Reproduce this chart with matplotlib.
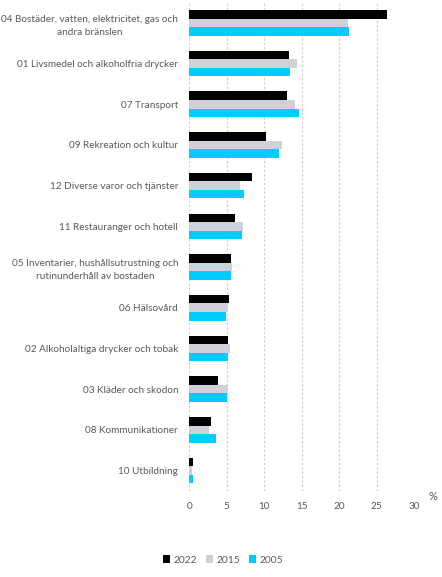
import matplotlib
matplotlib.use("Agg")
import matplotlib.pyplot as plt
import numpy as np

plt.rcParams['font.family'] = ['Lato', 'DejaVu Sans']

categories = [
    "04 Bostäder, vatten, elektricitet, gas och\nandra bränslen",
    "01 Livsmedel och alkoholfria drycker",
    "07 Transport",
    "09 Rekreation och kultur",
    "12 Diverse varor och tjänster",
    "11 Restauranger och hotell",
    "05 Inventarier, hushållsutrustning och\nrutinunderhåll av bostaden",
    "06 Hälsovård",
    "02 Alkoholaltiga drycker och tobak",
    "03 Kläder och skodon",
    "08 Kommunikationer",
    "10 Utbildning",
]
v2022 = [26.3, 13.3, 13.0, 10.2, 8.3, 6.1, 5.5, 5.3, 5.1, 3.8, 2.9, 0.5]
v2015 = [21.2, 14.3, 14.1, 12.4, 6.7, 7.2, 5.7, 5.1, 5.4, 5.1, 2.6, 0.4]
v2005 = [21.3, 13.4, 14.6, 12.0, 7.3, 7.0, 5.5, 4.9, 5.1, 5.0, 3.5, 0.5]
series_names = ["2022", "2015", "2005"]
colors = ["#000000", "#D0D0D8", "#00CCFF"]
xticks = [0, 5, 10, 15, 20, 25, 30]

fig = plt.figure(figsize=(4.42, 5.77), dpi=100)
ax = fig.add_axes([0.4283, 0.1492, 0.509, 0.8465])

y = np.arange(len(categories))
h = 0.21
for k, (vals, name, col) in enumerate(zip([v2022, v2015, v2005], series_names, colors)):
    ax.barh(y + (k - 1) * h, vals, height=h, color=col, label=name, zorder=3)

ax.set_ylim(len(categories) - 0.5, -0.5)
ax.set_xlim(0, 30)
ax.set_xticks(xticks)
ax.set_yticks(y)
ax.set_yticklabels(categories, multialignment='center', linespacing=1.6)
ax.tick_params(axis='both', length=0, labelsize=7.2, colors='#595959')
ax.tick_params(axis='y', pad=8)
ax.tick_params(axis='x', pad=8)
for s in ax.spines.values():
    s.set_visible(False)
ax.grid(axis='x', color='#D0D0D0', linestyle=(0, (2, 1.5)), linewidth=0.9, zorder=0)

fig.text(433 / 442, 1 - 496 / 577, "%", ha='center', va='center', fontsize=8, color='#595959')

leg = fig.legend(loc='center', bbox_to_anchor=(223 / 442, 1 - 560 / 577), ncol=3, frameon=False,
                 fontsize=7.4, handlelength=0.7, handleheight=0.7, handletextpad=0.3,
                 columnspacing=0.9, labelcolor='#595959')

fig.savefig("out.png", dpi=100)
